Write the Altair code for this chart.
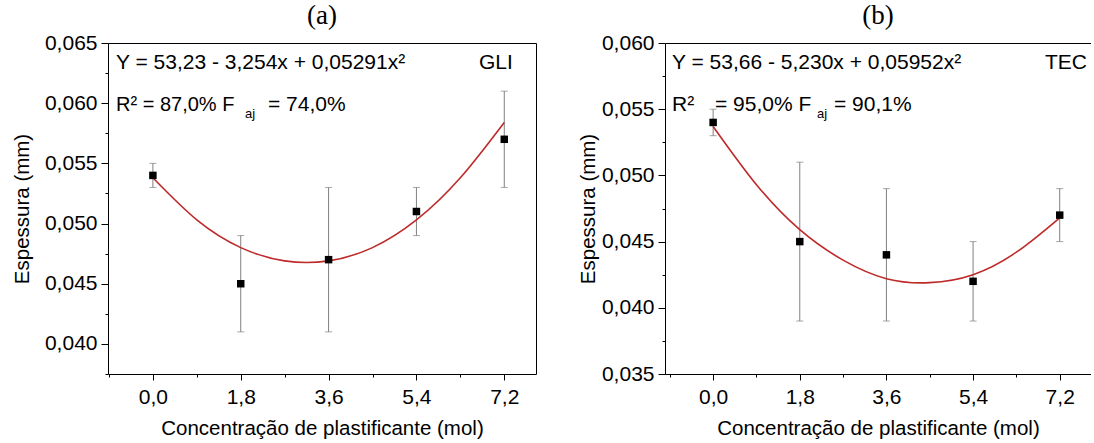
import altair as alt
import pandas as pd

# ---------------- data ----------------
x_levels = [0.0, 1.8, 3.6, 5.4, 7.2]

gli_mean = [0.054, 0.045, 0.047, 0.051, 0.057]
gli_low = [0.053, 0.041, 0.041, 0.049, 0.053]
gli_high = [0.055, 0.049, 0.053, 0.053, 0.061]

tec_mean = [0.054, 0.045, 0.044, 0.042, 0.047]
tec_low = [0.053, 0.039, 0.039, 0.039, 0.045]
tec_high = [0.055, 0.051, 0.049, 0.045, 0.049]

curve_x = [0.0, 0.9, 1.8, 2.7, 3.6, 4.5, 5.4, 6.3, 7.2]
gli_curve = [0.0538, 0.0503, 0.0480, 0.0469, 0.0469, 0.0480, 0.0503, 0.0538, 0.0584]
tec_curve = [0.0537, 0.0493, 0.0459, 0.0436, 0.0422, 0.0419, 0.0425, 0.0442, 0.0468]

x_ticks_a = [-0.9, 0.0, 0.9, 1.8, 2.7, 3.6, 4.5, 5.4, 6.3, 7.2]
x_ticks_b = [-0.9, 0.0, 0.9, 1.8, 2.7, 3.6, 4.5, 5.4, 6.3, 7.2]
y_ticks_a = [0.0375, 0.040, 0.0425, 0.045, 0.0475, 0.050, 0.0525, 0.055, 0.0575, 0.060, 0.0625, 0.065]
y_ticks_b = [0.035, 0.0375, 0.040, 0.0425, 0.045, 0.0475, 0.050, 0.0525, 0.055, 0.0575, 0.060]

x_title = "Concentração de plastificante (mol)"
y_title = "Espessura (mm)"

SANS = "Liberation Sans"
SERIF = "Liberation Serif"
RED = "#BE2A2A"
GRAY = "#808080"

X_MAJOR = "abs(datum.value/1.8 - round(datum.value/1.8)) < 0.01"
Y_MAJOR = "abs(datum.value/0.005 - round(datum.value/0.005)) < 0.01"


def make_panel(mean, lo, hi, curve, x_dom, y_dom, x_vals, y_vals, title,
               eq1, line2, tag, tag_x, width, right_border, ytitle_pad):
    pts = pd.DataFrame({"x": x_levels, "m": mean, "lo": lo, "hi": hi})
    cur = pd.DataFrame({"x": curve_x, "y": curve})
    one = pd.DataFrame({"k": [0]})

    xs = alt.Scale(domain=x_dom, nice=False, zero=False)
    ys = alt.Scale(domain=y_dom, nice=False, zero=False)

    xaxis = alt.Axis(
        values=x_vals, grid=False, title=x_title,
        labelExpr=f"({X_MAJOR}) ? replace(format(datum.value, '.1f'), '.', ',') : ''",
        tickSize={"condition": {"test": X_MAJOR, "value": 6}, "value": 3},
        tickColor="black", domainColor="black", tickWidth=1, domainWidth=1,
        labelFont=SANS, labelFontSize=21, labelColor="black", labelPadding=6,
        titleFont=SANS, titleFontSize=20.5, titleFontWeight="normal",
        titleColor="black", titlePadding=11,
    )
    yaxis = alt.Axis(
        values=y_vals, grid=False, title=y_title,
        labelExpr=f"({Y_MAJOR}) ? replace(format(datum.value, '.3f'), '.', ',') : ''",
        tickSize={"condition": {"test": Y_MAJOR, "value": 7}, "value": 3},
        tickColor="black", domainColor="black", tickWidth=1, domainWidth=1,
        labelFont=SANS, labelFontSize=21, labelColor="black", labelPadding=4,
        titleFont=SANS, titleFontSize=20.5, titleFontWeight="normal",
        titleColor="black", titlePadding=ytitle_pad,
    )

    X = alt.X("x:Q", scale=xs, axis=xaxis)

    bars = alt.Chart(pts).mark_rule(color=GRAY, strokeWidth=1).encode(
        x=X, y=alt.Y("lo:Q", scale=ys, axis=yaxis), y2="hi:Q")
    cap_lo = alt.Chart(pts).mark_tick(orient="horizontal", size=7, thickness=1, color=GRAY).encode(
        x=X, y=alt.Y("lo:Q", scale=ys, axis=yaxis))
    cap_hi = alt.Chart(pts).mark_tick(orient="horizontal", size=7, thickness=1, color=GRAY).encode(
        x=X, y=alt.Y("hi:Q", scale=ys, axis=yaxis))
    line = alt.Chart(cur).mark_line(color=RED, strokeWidth=1.6, interpolate="natural").encode(
        x=X, y=alt.Y("y:Q", scale=ys, axis=yaxis))
    points = alt.Chart(pts).mark_square(size=56, color="black", opacity=1).encode(
        x=X, y=alt.Y("m:Q", scale=ys, axis=yaxis))

    texts = [
        alt.Chart(one).mark_text(align="left", baseline="middle", font=SANS,
                                 fontSize=21, color="black", text=eq1)
        .encode(x=alt.value(line2[0][1]), y=alt.value(20)),
        alt.Chart(one).mark_text(align="left", baseline="middle", font=SANS,
                                 fontSize=21, color="black", text=tag)
        .encode(x=alt.value(tag_x), y=alt.value(20)),
    ]
    for txt, px, py, fs in line2:
        texts.append(alt.Chart(one).mark_text(align="left", baseline="middle", font=SANS,
                                              fontSize=fs, color="black", text=txt)
                     .encode(x=alt.value(px), y=alt.value(py)))

    inner = alt.layer(bars, cap_lo, cap_hi, line, points, *texts)

    frame_axis_x = alt.Axis(orient="top", labels=False, ticks=False, grid=False, title=None,
                            domainColor="black", domainWidth=1)
    if right_border:
        fy = alt.Y("m:Q", scale=ys, axis=alt.Axis(orient="right", labels=False, ticks=False,
                                                  grid=False, title=None,
                                                  domainColor="black", domainWidth=1))
    else:
        fy = alt.Y("m:Q", scale=ys, axis=None)
    frame = alt.Chart(pts).mark_point(opacity=0).encode(
        x=alt.X("x:Q", scale=xs, axis=frame_axis_x), y=fy)

    return alt.layer(inner, frame).resolve_scale(x="independent", y="independent").properties(
        width=width, height=331,
        title=alt.TitleParams(text=title, font=SERIF, fontSize=27, fontWeight="normal",
                              color="black", offset=2, anchor="middle"),
    )


panel_a = make_panel(
    gli_mean, gli_low, gli_high, gli_curve, [-0.92, 7.85], [0.0375, 0.065],
    x_ticks_a, y_ticks_a, "(a)",
    "Y = 53,23 - 3,254x + 0,05291x²",
    [("R² = 87,0% F", 8, 62, 20), ("aj", 137, 71, 13), ("= 74,0%", 160, 62, 21)],
    "GLI", 371, 428, True, 12,
)

panel_b = make_panel(
    tec_mean, tec_low, tec_high, tec_curve, [-1.0, 7.85], [0.035, 0.060],
    x_ticks_b, y_ticks_b, "(b)",
    "Y = 53,66 - 5,230x + 0,05952x²",
    [("R²", 7, 62, 21), ("= 95,0% F", 50, 62, 21), ("aj", 152, 71, 13), ("= 90,1%", 169, 62, 21)],
    "TEC", 380, 426, False, 3,
)

chart = alt.hconcat(panel_a, panel_b, spacing=42).configure_view(stroke=None).properties(
    padding={"left": 12, "top": 2, "right": 0, "bottom": 0},
    background="white",
)

chart.save("out.html", embed_options={"renderer": "svg", "actions": False})
